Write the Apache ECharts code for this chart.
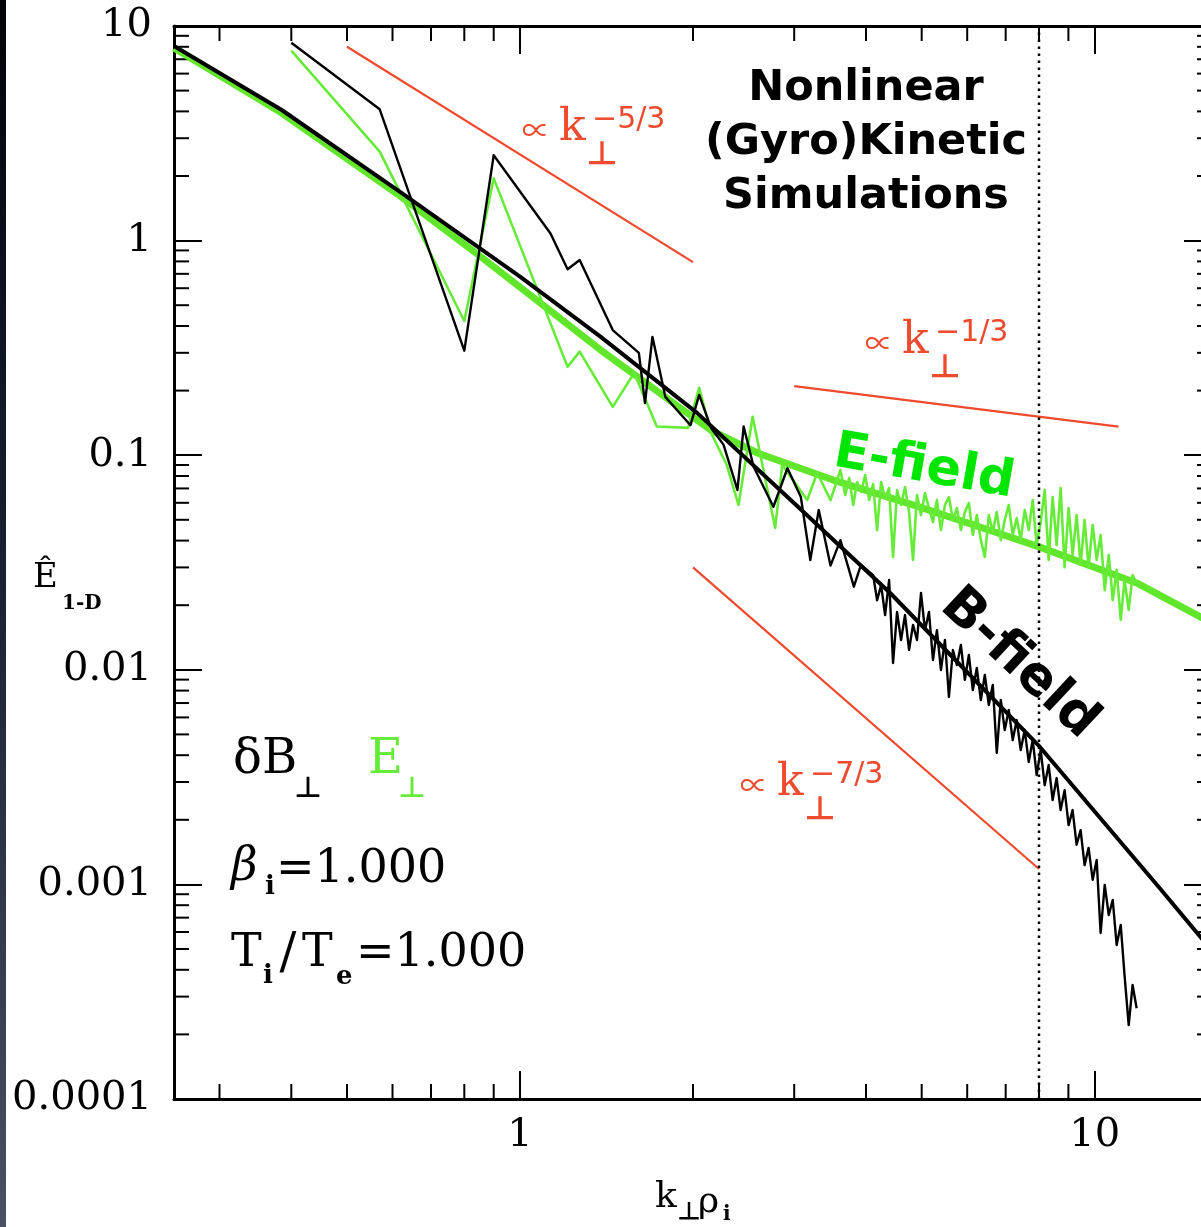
<!DOCTYPE html>
<html>
<head>
<meta charset="utf-8">
<script src="https://cdn.jsdelivr.net/npm/echarts/dist/echarts.min.js"></script>
<style>
  html, body { margin: 0; padding: 0; background: #ffffff; }
  #chart { width: 1201px; height: 1227px; }
</style>
</head>
<body>
<div id="chart"></div>
<script>
// ---- axis ranges and ticks ----
const xRange = [0.25, 16];
const yRange = [1e-4, 10];
const minorSteps = [2, 3, 4, 5, 6, 7, 8, 9];
const xDecades = [0.1, 1];
const yDecades = [1e-4, 1e-3, 1e-2, 1e-1, 1];

// ---- spectra: [k_perp rho_i, E_1D] ----
const bFieldSpectrum = [
  [0.40, 8.36], [0.57, 4.09], [0.80, 0.307], [0.90, 2.50], [1.13, 1.08], [1.21, 0.735],
  [1.27, 0.812], [1.45, 0.383], [1.61, 0.300], [1.65, 0.175], [1.70, 0.356], [1.79, 0.187],
  [1.98, 0.138], [2.05, 0.191], [2.15, 0.134], [2.26, 0.112], [2.39, 0.0689], [2.45, 0.136],
  [2.55, 0.0884], [2.76, 0.0575], [2.92, 0.0869], [3.08, 0.0641], [3.20, 0.0325], [3.31, 0.0555],
  [3.47, 0.0306], [3.61, 0.0402], [3.81, 0.0244], [3.92, 0.0308],
  [4.116, 0.0276], [4.182, 0.0211], [4.250, 0.0248], [4.318, 0.0180], [4.388, 0.0262], [4.458, 0.01076],
  [4.530, 0.0186], [4.603, 0.01377], [4.677, 0.0180], [4.753, 0.01237], [4.829, 0.0162], [4.907, 0.01377],
  [4.986, 0.0228], [5.066, 0.0153], [5.148, 0.0186], [5.231, 0.01111], [5.315, 0.0153], [5.401, 0.00998],
  [5.488, 0.01377], [5.576, 0.00747], [5.666, 0.01237], [5.757, 0.01053], [5.850, 0.01305], [5.944, 0.00897],
  [6.040, 0.01172], [6.137, 0.00805], [6.236, 0.01019], [6.337, 0.00723], [6.439, 0.00946], [6.542, 0.00686],
  [6.648, 0.00850], [6.755, 0.00410], [6.864, 0.00723], [6.974, 0.00524], [7.087, 0.00650], [7.201, 0.00471],
  [7.317, 0.00583], [7.435, 0.00423], [7.555, 0.00524], [7.677, 0.00372], [7.800, 0.00471], [7.926, 0.00323],
  [8.054, 0.00423], [8.184, 0.00290], [8.316, 0.00360], [8.450, 0.00247], [8.586, 0.00313], [8.724, 0.00222],
  [8.865, 0.00275], [9.008, 0.00189], [9.153, 0.00222], [9.301, 0.00153], [9.451, 0.00179], [9.603, 0.00123],
  [9.758, 0.00148], [9.920, 0.00105], [10.08, 0.00130], [10.24, 0.000594], [10.41, 0.000994], [10.58, 0.000720],
  [10.75, 0.000846], [10.92, 0.000522], [11.10, 0.000647], [11.27, 0.000378], [11.46, 0.000221], [11.64, 0.000340],
  [11.83, 0.000265]
];

const eFieldSpectrum = [
  [0.40, 7.67], [0.57, 2.60], [0.80, 0.422], [0.90, 1.95], [1.21, 0.258], [1.27, 0.304],
  [1.45, 0.168], [1.58, 0.242], [1.73, 0.136], [1.96, 0.134], [2.05, 0.206], [2.15, 0.127],
  [2.29, 0.090], [2.40, 0.0586], [2.54, 0.151], [2.78, 0.0458], [2.86, 0.090], [3.16, 0.0618],
  [3.29, 0.0826], [3.47, 0.0618], [3.61, 0.0853],
  [3.681, 0.0652], [3.740, 0.0783], [3.800, 0.0586], [3.861, 0.0750], [3.924, 0.0673], [3.987, 0.0808],
  [4.051, 0.0618], [4.116, 0.0734], [4.182, 0.0448], [4.250, 0.0750], [4.318, 0.0631], [4.388, 0.0703],
  [4.458, 0.0336], [4.530, 0.0688], [4.603, 0.0586], [4.677, 0.0711], [4.753, 0.0543], [4.829, 0.0325],
  [4.907, 0.0652], [4.986, 0.0526], [5.066, 0.0666], [5.148, 0.0567], [5.231, 0.0488], [5.315, 0.0618],
  [5.401, 0.0448], [5.488, 0.0586], [5.576, 0.0638], [5.666, 0.0499], [5.757, 0.0567], [5.850, 0.0448],
  [5.944, 0.0543], [6.040, 0.0599], [6.137, 0.0425], [6.236, 0.0526], [6.337, 0.0402], [6.439, 0.0336],
  [6.542, 0.0526], [6.648, 0.0439], [6.755, 0.0543], [6.864, 0.0402], [6.974, 0.0499], [7.087, 0.0586],
  [7.201, 0.0425], [7.317, 0.0510], [7.435, 0.0402], [7.555, 0.0555], [7.677, 0.0448], [7.800, 0.0618],
  [7.926, 0.0381], [8.054, 0.0488], [8.184, 0.0688], [8.316, 0.0325], [8.450, 0.0638], [8.586, 0.0381],
  [8.724, 0.0703], [8.865, 0.0301], [9.008, 0.0567], [9.153, 0.0343], [9.301, 0.0526], [9.451, 0.0308],
  [9.603, 0.0499], [9.758, 0.0301], [9.920, 0.0473], [10.08, 0.0325], [10.24, 0.0425], [10.41, 0.0235],
  [10.58, 0.0343], [10.75, 0.0211], [10.92, 0.0292], [11.10, 0.0171], [11.27, 0.0262], [11.46, 0.0190],
  [11.64, 0.0276], [11.83, 0.0254]
];

// ---- fitted spectra ----
const bFieldFit = [
  [0.25, 8.07], [0.385, 4.06], [0.622, 1.667], [1.0, 0.68], [1.382, 0.356], [2.035, 0.157],
  [3.075, 0.0561], [4.406, 0.0228], [8.03, 0.00437], [12.97, 0.000962], [16, 0.00049]
];
const eFieldFit = [
  [0.25, 7.9], [0.385, 3.93], [0.622, 1.597], [0.856, 0.839], [1.382, 0.309], [1.75, 0.195],
  [2.146, 0.131], [2.589, 0.1024], [3.509, 0.0766], [4.968, 0.0573], [6.31, 0.0463], [8.03, 0.0373],
  [11.83, 0.0254], [16, 0.0165]
];

// ---- reference power laws ----
const slopeFiveThirds = [[0.5, 8.0], [2.0, 0.794]];
const slopeOneThird = [[3.0, 0.21], [11.0, 0.136]];
const slopeSevenThirds = [[2.0, 0.030], [8.0, 0.00118]];
const cutoffK = 8;

const RED = '#ee4a2e';
const GREEN_THIN = '#66ec38';
const GREEN_FIT = '#62e62c';
const SERIF = '"DejaVu Serif", "Liberation Serif", serif';
const SANS = '"DejaVu Sans", sans-serif';
const SYMBOL = '"Noto Sans CJK SC", "DejaVu Sans", sans-serif';

const xMinor = [];
xDecades.forEach(d => minorSteps.forEach(s => { const v = d * s; if (v > xRange[0] && v < xRange[1]) xMinor.push(v); }));
const yMinor = [];
yDecades.forEach(d => minorSteps.forEach(s => { const v = d * s; if (v > yRange[0] && v < yRange[1]) yMinor.push(v); }));

function isDecade(v) {
  const l = Math.log10(v);
  return Math.abs(l - Math.round(l)) < 1e-6;
}
function tickLabel(v) {
  if (!isDecade(v)) return '';
  return String(Number(Math.pow(10, Math.round(Math.log10(v))).toPrecision(1)));
}

// minor ticks on all four sides of the frame
function minorTickRenderer(dim, len) {
  return function (params, api) {
    const cs = params.coordSys;
    const left = cs.x, top = cs.y, right = cs.x + cs.width, bottom = cs.y + cs.height;
    const st = { stroke: '#000', lineWidth: 2 };
    if (dim === 'x') {
      const px = api.coord([api.value(0), 1])[0];
      return { type: 'group', children: [
        { type: 'line', shape: { x1: px, y1: bottom, x2: px, y2: bottom - len }, style: st },
        { type: 'line', shape: { x1: px, y1: top, x2: px, y2: top + len }, style: st }
      ] };
    }
    const py = api.coord([1, api.value(1)])[1];
    return { type: 'group', children: [
      { type: 'line', shape: { x1: left, y1: py, x2: left + len, y2: py }, style: st },
      { type: 'line', shape: { x1: right, y1: py, x2: right - len, y2: py }, style: st }
    ] };
  };
}

function lineSeries(data, color, width, extra) {
  return Object.assign({
    type: 'line', data: data, symbol: 'none', showSymbol: false, silent: true,
    animation: false, clip: true, lineStyle: { color: color, width: width, join: 'round' }
  }, extra || {});
}

function txt(x, y, text, font, fill, align, extra) {
  return Object.assign({
    type: 'text', x: x, y: y, silent: true, z: 100,
    style: { text: text, font: font, fill: fill, align: align || 'left', verticalAlign: 'middle' }
  }, extra || {});
}

// "∝ k⊥^expo" label, anchored at the centre of the ∝ sign
function propLabel(ox, oy, expo) {
  return [
    txt(ox, oy, '∝', '28px ' + SYMBOL, RED, 'center'),
    txt(ox + 23, oy - 1, 'k', '44px ' + SERIF, RED, 'left'),
    txt(ox + 66, oy + 23, '⊥', 'bold 32px ' + SYMBOL, RED, 'center'),
    txt(ox + 56, oy - 10, expo, '30px ' + SANS, RED, 'left')
  ];
}

const axisCommon = {
  type: 'log', logBase: 10, gridIndex: 0,
  splitLine: { show: false }, minorTick: { show: false }, minorSplitLine: { show: false },
  axisLine: { show: true, lineStyle: { color: '#000', width: 3 } },
  axisTick: { show: true, inside: true, length: 28, lineStyle: { color: '#000', width: 2 } }
};

const graphics = [
  {
    type: 'rect', shape: { x: 0, y: 0, width: 6, height: 1227 }, silent: true, z: 100,
    style: { fill: new echarts.graphic.LinearGradient(0, 0, 0, 1, [
      { offset: 0, color: '#020308' }, { offset: 0.5, color: '#1c2336' }, { offset: 1, color: '#4b5064' }
    ]) }
  },
  txt(866, 89, 'Nonlinear', 'bold 43px ' + SANS, '#000', 'center'),
  txt(866, 143, '(Gyro)Kinetic', 'bold 43px ' + SANS, '#000', 'center'),
  txt(866, 197, 'Simulations', 'bold 43px ' + SANS, '#000', 'center'),
  txt(924, 468, 'E-field', 'bold 51px ' + SANS, '#00e600', 'center', { rotation: -10 * Math.PI / 180 }),
  txt(1019, 664, 'B-field', 'bold 53px ' + SANS, '#000', 'center', { rotation: -43 * Math.PI / 180 }),
  ...propLabel(536, 130, '−5/3'),
  ...propLabel(879, 343, '−1/3'),
  ...propLabel(754, 785, '−7/3'),
  // legend and parameters
  txt(233, 761, 'δB', '48px ' + SERIF, '#000'),
  txt(308, 787, '⊥', 'bold 28px ' + SYMBOL, '#000', 'center'),
  txt(368, 761, 'E', '48px ' + SERIF, GREEN_THIN),
  txt(412, 787, '⊥', 'bold 28px ' + SYMBOL, GREEN_THIN, 'center'),
  txt(231, 868, 'β', 'italic 46px ' + SERIF, '#000'),
  txt(265, 887, 'i', 'bold 26px ' + SERIF, '#000'),
  txt(276, 870, '=1.000', '46px ' + SERIF, '#000'),
  txt(231, 954, 'T', '46px ' + SERIF, '#000'),
  txt(263, 976, 'i', 'bold 26px ' + SERIF, '#000'),
  txt(288, 955, '/', '50px ' + SERIF, '#000', 'center'),
  txt(302, 954, 'T', '46px ' + SERIF, '#000'),
  txt(336, 977, 'e', 'bold 26px ' + SERIF, '#000'),
  txt(356, 954, '=1.000', '46px ' + SERIF, '#000'),
  // axis titles
  txt(655, 1198, 'k', '36px ' + SERIF, '#000'),
  txt(689, 1211, '⊥', 'bold 24px ' + SYMBOL, '#000', 'center'),
  txt(698, 1203, 'ρ', '36px ' + SERIF, '#000'),
  txt(723, 1215, 'i', 'bold 20px ' + SERIF, '#000'),
  txt(33, 578, 'Ê', '34px ' + SERIF, '#000'),
  txt(62, 604, '1-D', 'bold 20px ' + SERIF, '#000')
];

const chart = echarts.init(document.getElementById('chart'), null, { renderer: 'canvas' });
chart.setOption({
  backgroundColor: '#ffffff',
  animation: false,
  grid: { left: 174, top: 26, width: 1038, height: 1073, containLabel: false, outerBoundsMode: 'none' },
  xAxis: [
    Object.assign({}, axisCommon, {
      position: 'bottom', min: xRange[0], max: xRange[1],
      axisLabel: { show: true, formatter: tickLabel, color: '#000', fontFamily: 'DejaVu Serif', fontSize: 40, margin: 17,
        showMinLabel: true, showMaxLabel: true, hideOverlap: false }
    }),
    Object.assign({}, axisCommon, {
      position: 'top', min: xRange[0], max: xRange[1], axisLabel: { show: false }
    })
  ],
  yAxis: [
    Object.assign({}, axisCommon, {
      position: 'left', min: yRange[0], max: yRange[1],
      axisLabel: { show: true, formatter: tickLabel, color: '#000', fontFamily: 'DejaVu Serif', fontSize: 40, margin: 22,
        showMinLabel: true, showMaxLabel: true, hideOverlap: false }
    }),
    Object.assign({}, axisCommon, {
      position: 'right', min: yRange[0], max: yRange[1], axisLabel: { show: false }
    })
  ],
  series: [
    { type: 'custom', silent: true, animation: false, clip: false, renderItem: minorTickRenderer('x', 15),
      data: xMinor.map(v => [v, 1]) },
    { type: 'custom', silent: true, animation: false, clip: false, renderItem: minorTickRenderer('y', 15),
      data: yMinor.map(v => [1, v]) },
    lineSeries(slopeFiveThirds, RED, 2.2),
    lineSeries(slopeOneThird, RED, 2.2),
    lineSeries(slopeSevenThirds, RED, 2.2),
    lineSeries(eFieldFit, GREEN_FIT, 7),
    lineSeries(eFieldSpectrum, GREEN_THIN, 2.6),
    lineSeries([[cutoffK, yRange[0]], [cutoffK, yRange[1]]], '#000', 2.5, { lineStyle: { color: '#000', width: 2.5, type: [2.5, 4.5] } }),
    lineSeries(bFieldFit, '#000', 4),
    lineSeries(bFieldSpectrum, '#000', 2.4)
  ],
  graphic: graphics
});
</script>
</body>
</html>
